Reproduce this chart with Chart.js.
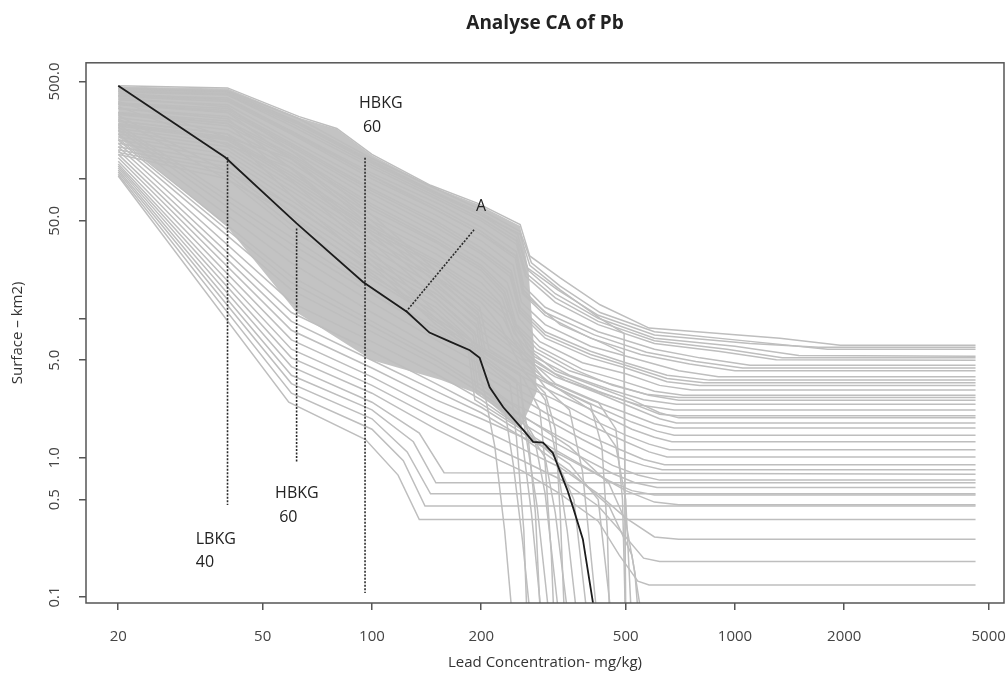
<!DOCTYPE html>
<html>
<head>
<meta charset="utf-8">
<title>Analyse CA of Pb</title>
<script src="https://cdn.jsdelivr.net/npm/chart.js@4.4.1/dist/chart.umd.min.js"></script>
<style>
html, body { margin: 0; padding: 0; background: #fff; }
#wrap { width: 1006px; height: 699px; }
</style>
</head>
<body>
<div id="wrap"><canvas id="caChart" width="1006" height="699"></canvas></div>
<script>
// axis ticks
const xTicks = [20, 50, 100, 200, 500, 1000, 2000, 5000];
const xTickLabels = ['20', '50', '100', '200', '500', '1000', '2000', '5000'];
const yTicks = [0.1, 0.5, 1, 5, 10, 50, 100, 500];
const yTickLabels = ['0.1', '0.5', '1.0', '5.0', '', '50.0', '', '500.0'];

// median concentration-area curve (black)
const medianCurve = [[20, 466], [39.4, 143], [62, 48], [94.5, 18.2], [125, 11.1], [144, 7.9], [164, 6.8],
	[186, 5.9], [198, 5.2], [211, 3.2], [230, 2.3], [261, 1.58], [278, 1.3], [296, 1.28], [315, 1.08],
	[345, 0.59], [358, 0.44], [381, 0.26], [406, 0.092], [412, 0.06]];

// outline of the solid grey core where the simulated curves overlap
const coreTop = [[20, 460], [40, 445], [63, 275], [80, 228], [100, 148], [145, 89], [195, 66], [256, 46], [270, 22], [285, 3]];
const coreBottom = [[20, 200], [40, 45], [62, 11], [100, 5], [155, 3.6], [200, 2.8], [256, 1.6], [285, 3]];

// simulated curves, upper band (end on high plateaus)
const upperCurves = [
	[[20, 466], [40, 450], [63, 280], [80, 230], [100, 150], [145, 90], [195, 67], [256, 47], [272, 28], [330, 19.5], [425, 12.5], [580, 8.5], [1330, 7.2], [1950, 6.4], [4600, 6.4]],
	[[20, 450], [40, 430], [63, 270], [100, 140], [150, 85], [200, 60], [256, 42], [275, 25], [330, 17], [425, 11], [600, 8], [1000, 7], [1800, 6.0], [4600, 6.0]],
	[[20, 445], [40, 425], [62, 255], [100, 132], [150, 80], [200, 57], [252, 40], [268, 23], [325, 16], [420, 10.5], [600, 7.6], [1100, 6.6], [1700, 6.2], [4600, 6.2]],
	[[20, 430], [40, 410], [62, 250], [100, 130], [150, 78], [200, 55], [250, 38], [270, 22], [320, 15], [420, 10], [600, 7.2], [1000, 6.3], [1500, 5.4], [4600, 5.35]],
	[[20, 425], [40, 405], [61, 245], [100, 125], [150, 75], [200, 52], [250, 36], [266, 21], [320, 14], [420, 9.5], [600, 6.9], [950, 6], [1350, 5.2], [4600, 5.2]],
	[[20, 420], [40, 400], [60, 240], [100, 120], [150, 72], [200, 50], [250, 34], [265, 20], [320, 13], [420, 9], [600, 6.6], [900, 5.8], [1300, 5.05], [4600, 5.0]],
	[[20, 400], [40, 380], [60, 220], [100, 110], [155, 65], [200, 45], [250, 30], [262, 17], [300, 12], [420, 8], [600, 6], [800, 5.2], [1100, 4.6], [4600, 4.6]],
	[[20, 395], [40, 370], [60, 215], [100, 105], [152, 62], [200, 42], [249, 28], [261, 16], [300, 11], [410, 7.6], [570, 5.7], [780, 4.9], [1050, 4.4], [4600, 4.4]],
	[[20, 390], [40, 360], [60, 210], [100, 100], [150, 60], [200, 40], [248, 27], [260, 15], [300, 10.5], [400, 7.2], [550, 5.5], [750, 4.7], [1000, 4.2], [4600, 4.2]],
	[[20, 370], [40, 340], [60, 190], [100, 92], [150, 55], [200, 36], [245, 24], [258, 13], [300, 9], [400, 6.3], [550, 5], [700, 4.2], [900, 3.8], [4600, 3.8]],
	[[20, 350], [40, 320], [60, 180], [100, 85], [150, 50], [200, 32], [242, 22], [256, 12], [300, 8], [400, 5.8], [500, 4.8], [650, 3.9], [850, 3.6], [4600, 3.6]],
	[[20, 345], [40, 310], [60, 175], [100, 82], [150, 48], [200, 30], [241, 21], [255, 11.5], [300, 7.6], [400, 5.5], [500, 4.6], [650, 3.7], [820, 3.45], [4600, 3.45]],
	[[20, 340], [40, 300], [60, 170], [100, 78], [150, 45], [200, 29], [240, 20], [255, 11], [300, 7.2], [400, 5.2], [500, 4.4], [650, 3.5], [800, 3.3], [4600, 3.3]],
	[[20, 320], [40, 280], [60, 160], [100, 72], [150, 41], [200, 26], [236, 18], [254, 10], [290, 6.8], [380, 4.8], [500, 4.0], [620, 3.3], [760, 3.06], [4600, 3.06]],
	[[20, 300], [40, 260], [60, 150], [100, 66], [150, 38], [200, 24], [235, 16], [250, 9], [290, 6.2], [380, 4.3], [480, 3.6], [600, 3.0], [720, 2.8], [4600, 2.8]],
	[[20, 295], [40, 250], [60, 145], [100, 63], [150, 36], [200, 23], [232, 15.5], [249, 8.7], [285, 6], [360, 4.3], [460, 3.3], [570, 2.85], [700, 2.7], [4600, 2.7]],
	[[20, 290], [40, 240], [60, 140], [100, 60], [150, 35], [200, 22], [230, 15], [248, 8.4], [280, 5.8], [350, 4.2], [450, 3.4], [580, 2.8], [700, 2.58], [4600, 2.58]],
	[[20, 275], [40, 225], [60, 130], [100, 55], [150, 32], [200, 20], [228, 14], [246, 7.8], [280, 5.3], [350, 3.9], [450, 3.1], [560, 2.6], [690, 2.42], [4600, 2.42]],
	[[20, 260], [40, 210], [60, 120], [100, 50], [150, 29], [200, 18], [225, 13], [244, 7.2], [280, 4.9], [340, 3.6], [430, 2.9], [540, 2.4], [680, 2.2], [4600, 2.2]],
	[[20, 440], [40, 420], [62, 260], [100, 135], [150, 80], [200, 55], [256, 40], [272, 24], [330, 16], [425, 10], [495, 7.8], [500, 0.05]],
	[[20, 410], [40, 370], [62, 210], [100, 105], [150, 60], [200, 40], [250, 28], [262, 15], [330, 9], [440, 6.5], [495, 5.6], [500, 0.05]]
];

// middle band (plateaus between 2 and 0.5)
const middleCurves = [
	[[20, 250], [40, 200], [60, 110], [100, 46], [150, 26], [200, 16], [240, 11], [270, 6], [320, 4.2], [420, 3.2], [520, 2.6], [620, 2.1], [700, 1.93], [4600, 1.93]],
	[[20, 245], [40, 195], [60, 105], [100, 44], [150, 25], [200, 15], [235, 10.5], [265, 5.6], [320, 4], [420, 3.0], [520, 2.45], [620, 2.05], [695, 2.0], [4600, 2.0]],
	[[20, 240], [40, 190], [60, 100], [100, 42], [150, 24], [200, 14], [230, 10], [260, 5.2], [320, 3.8], [420, 2.9], [520, 2.3], [620, 1.9], [690, 1.77], [4600, 1.77]],
	[[20, 230], [40, 180], [60, 95], [100, 40], [150, 22], [200, 13], [225, 9], [256, 4.6], [300, 3.6], [400, 2.6], [500, 2.1], [600, 1.75], [680, 1.63], [4600, 1.63]],
	[[20, 220], [40, 170], [60, 88], [100, 37], [150, 20], [198, 12], [210, 6], [260, 4.2], [320, 3.2], [420, 2.3], [520, 1.8], [610, 1.55], [680, 1.45], [4600, 1.45]],
	[[20, 210], [40, 160], [60, 82], [100, 34], [150, 19], [196, 11], [206, 5.5], [260, 3.8], [320, 2.9], [420, 2.1], [520, 1.6], [600, 1.4], [670, 1.3], [4600, 1.3]],
	[[20, 200], [40, 150], [60, 76], [100, 31], [150, 17], [195, 10], [204, 5], [250, 3.5], [320, 2.6], [400, 1.9], [500, 1.45], [580, 1.25], [660, 1.14], [4600, 1.14]],
	[[20, 190], [40, 140], [60, 70], [100, 28], [150, 15], [194, 9], [202, 4.4], [250, 3.1], [300, 2.4], [400, 1.7], [500, 1.3], [580, 1.1], [650, 1.01], [4600, 1.01]],
	[[20, 180], [40, 130], [60, 64], [100, 26], [150, 14], [192, 8], [200, 4], [250, 2.8], [300, 2.1], [380, 1.5], [480, 1.15], [560, 0.97], [640, 0.89], [4600, 0.89]],
	[[20, 170], [40, 122], [60, 58], [100, 24], [150, 13], [190, 7.5], [198, 3.6], [240, 2.5], [300, 1.9], [380, 1.35], [470, 1.02], [560, 0.88], [630, 0.82], [4600, 0.82]],
	[[20, 162], [40, 115], [60, 52], [100, 22], [150, 12], [188, 7], [196, 3.2], [240, 2.2], [300, 1.6], [380, 1.15], [460, 0.88], [540, 0.75], [620, 0.69], [4600, 0.69]],
	[[20, 155], [40, 108], [60, 47], [100, 20], [150, 11], [186, 6.5], [194, 2.9], [240, 2.0], [300, 1.4], [380, 1.0], [460, 0.77], [530, 0.66], [610, 0.61], [4600, 0.61]],
	[[20, 150], [40, 100], [60, 43], [100, 19], [150, 10], [184, 6], [192, 2.6], [240, 1.8], [300, 1.25], [380, 0.88], [450, 0.68], [520, 0.58], [600, 0.54], [4600, 0.54]]
];

// curves falling below 0.1
const dropCurves = [
	[[20, 225], [60, 30], [100, 13], [150, 7], [195, 4.8], [205, 2.8], [218, 1.2], [232, 0.3], [245, 0.06]],
	[[20, 210], [60, 25], [100, 11], [150, 6], [200, 4], [230, 2.6], [245, 0.9], [260, 0.25], [275, 0.06]],
	[[20, 260], [40, 210], [62, 70], [100, 24], [150, 9], [200, 5.5], [250, 3.6], [258, 1.5], [275, 0.4], [295, 0.06]],
	[[20, 300], [40, 250], [62, 90], [100, 30], [150, 11], [200, 6], [256, 4], [262, 1.8], [285, 0.45], [310, 0.06]],
	[[20, 195], [60, 20], [100, 9.5], [150, 5.3], [200, 3.3], [250, 2.3], [280, 1.4], [300, 0.55], [330, 0.06]],
	[[20, 180], [60, 16], [100, 8], [150, 4.6], [200, 2.9], [260, 1.8], [300, 1.0], [320, 0.4], [350, 0.06]],
	[[20, 320], [40, 270], [62, 110], [100, 35], [150, 14], [200, 7], [256, 4.6], [300, 2.6], [320, 1.1], [345, 0.3], [370, 0.06]],
	[[20, 170], [60, 13], [100, 6.8], [150, 4], [200, 2.6], [260, 1.6], [320, 1.0], [360, 0.5], [395, 0.06]],
	[[20, 350], [40, 300], [62, 130], [100, 45], [150, 18], [200, 9], [256, 5.5], [300, 3.2], [350, 2.2], [380, 0.8], [420, 0.06]],
	[[20, 160], [60, 11], [100, 5.8], [150, 3.4], [200, 2.3], [260, 1.5], [350, 0.9], [420, 0.5], [460, 0.06]],
	[[20, 380], [40, 330], [62, 150], [100, 55], [150, 22], [200, 11], [256, 6], [300, 3.6], [400, 2.2], [470, 1.2], [500, 0.5], [520, 0.06]],
	[[20, 150], [60, 9.5], [100, 5], [150, 3], [200, 2.1], [260, 1.4], [350, 0.8], [450, 0.45], [520, 0.2], [560, 0.06]],
	[[20, 235], [60, 34], [100, 15], [150, 8], [200, 5], [240, 3.4], [250, 1.4], [262, 0.3], [268, 0.06]],
	[[20, 245], [60, 38], [100, 16], [150, 8.5], [200, 5.2], [255, 3.3], [268, 1.6], [282, 0.4], [292, 0.06]],
	[[20, 270], [60, 55], [100, 21], [150, 9.5], [200, 5.8], [260, 3.8], [290, 2.2], [300, 0.9], [312, 0.2], [318, 0.06]],
	[[20, 285], [60, 65], [100, 26], [150, 10], [200, 6.2], [260, 4.2], [300, 2.9], [320, 1.6], [330, 0.4], [340, 0.06]],
	[[20, 330], [60, 120], [100, 40], [150, 16], [200, 8], [260, 5], [320, 3.2], [400, 2.4], [430, 1.2], [445, 0.3], [452, 0.06]],
	[[20, 360], [60, 140], [100, 50], [150, 20], [200, 10], [260, 5.6], [320, 3.4], [420, 2.5], [470, 1.6], [490, 0.5], [500, 0.06]],
	[[20, 190], [60, 18], [100, 8.8], [150, 5], [200, 3.1], [260, 2.0], [350, 1.2], [450, 0.65], [500, 0.35], [530, 0.15], [545, 0.06]]
];

// lower band (low plateaus)
const lowerCurves = [
	[[20, 105], [59, 2.5], [96, 1.35], [118, 0.75], [135, 0.36], [4600, 0.36]],
	[[20, 108], [60, 2.9], [100, 1.6], [122, 0.95], [140, 0.45], [4600, 0.45]],
	[[20, 112], [60, 3.4], [100, 1.9], [125, 1.1], [145, 0.55], [4600, 0.55]],
	[[20, 116], [60, 3.9], [100, 2.2], [130, 1.3], [150, 0.66], [4600, 0.66]],
	[[20, 120], [60, 4.5], [100, 2.5], [135, 1.5], [158, 0.78], [4600, 0.76]],
	[[20, 124], [60, 5.2], [100, 2.9], [150, 1.6], [200, 1.1], [260, 0.8], [330, 0.55], [420, 0.35], [480, 0.2], [540, 0.13], [580, 0.122], [4600, 0.122]],
	[[20, 128], [60, 6], [100, 3.3], [150, 1.9], [200, 1.3], [260, 0.95], [330, 0.7], [420, 0.45], [500, 0.27], [560, 0.19], [620, 0.18], [4600, 0.18]],
	[[20, 134], [60, 7], [100, 3.8], [150, 2.2], [200, 1.6], [260, 1.15], [330, 0.85], [420, 0.55], [500, 0.37], [600, 0.27], [700, 0.26], [4600, 0.26]],
	[[20, 142], [60, 8.2], [100, 4.4], [150, 2.6], [200, 1.9], [260, 1.4], [330, 1.05], [420, 0.75], [500, 0.58], [600, 0.48], [700, 0.46], [4600, 0.46]]
];

// threshold markers (dotted)
const markerLines = [
	[[40, 143], [40, 0.457]],
	[[62, 44], [62, 0.92]],
	[[95.7, 141.6], [95.7, 0.107]],
	[[124, 11.1], [191, 43.1]]
];

// annotation texts and where they sit (data units, left edge / middle)
const noteTexts = ['HBKG', '60', 'A', 'HBKG', '60', 'LBKG', '40'];
const noteAt = [[92.1, 346], [94.4, 233], [193.5, 63.1], [54.1, 0.558], [55.5, 0.375], [32.7, 0.261], [32.7, 0.178]];

const toXY = pts => pts.map(p => ({ x: p[0], y: p[1] }));

const datasets = [];
datasets.push({ data: toXY(medianCurve), borderColor: '#1c1c1c', borderWidth: 1.8, order: 0 });
markerLines.forEach(l => datasets.push({
	data: toXY(l), borderColor: '#2a2a2a', borderWidth: 1.6, borderDash: [2, 1.5], order: 1
}));
[].concat(upperCurves, middleCurves, dropCurves, lowerCurves).forEach(c => datasets.push({
	data: toXY(c), borderColor: '#bebebe', borderWidth: 1.5, order: 2
}));
// core fill: top outline filled down to the next dataset (bottom outline)
datasets.push({ data: toXY(coreTop), borderWidth: 0, borderColor: 'rgba(0,0,0,0)', backgroundColor: '#c3c3c3', fill: '+1', order: 3 });
datasets.push({ data: toXY(coreBottom), borderWidth: 0, borderColor: 'rgba(0,0,0,0)', fill: false, order: 3 });

const textFont = { family: 'Open Sans', size: 15 };

// annotation labels
const notesPlugin = {
	id: 'notes',
	afterDatasetsDraw(chart) {
		const { ctx, scales } = chart;
		ctx.save();
		ctx.font = '16px "Open Sans"';
		ctx.fillStyle = '#222';
		ctx.textAlign = 'left';
		ctx.textBaseline = 'middle';
		noteTexts.forEach((t, i) => {
			ctx.fillText(t, scales.x.getPixelForValue(noteAt[i][0]), scales.y.getPixelForValue(noteAt[i][1]));
		});
		ctx.restore();
	}
};

// box round the plot region
const framePlugin = {
	id: 'frame',
	afterDraw(chart) {
		const { ctx, chartArea: a } = chart;
		ctx.save();
		ctx.strokeStyle = '#555';
		ctx.lineWidth = 1.5;
		ctx.strokeRect(a.left, a.top, a.right - a.left, a.bottom - a.top);
		ctx.restore();
	}
};

const noOverhang = s => { s.paddingLeft = 0; s.paddingRight = 0; s.paddingTop = 0; s.paddingBottom = 0; };

new Chart(document.getElementById('caChart'), {
	type: 'line',
	data: { datasets: datasets },
	options: {
		responsive: false,
		animation: false,
		elements: { point: { radius: 0 }, line: { tension: 0 } },
		layout: { padding: { right: 2 } },
		plugins: {
			legend: { display: false },
			tooltip: { enabled: false },
			filler: { propagate: false },
			title: {
				display: true,
				fullSize: false,
				text: 'Analyse CA of Pb',
				color: '#222',
				font: { family: 'Open Sans', size: 19, weight: 'bold' },
				padding: { top: 12, bottom: 28 }
			}
		},
		scales: {
			x: {
				type: 'logarithmic',
				min: 16.3,
				max: 5510,
				bounds: 'data',
				afterBuildTicks: s => { s.ticks = xTicks.map(v => ({ value: v })); },
				afterFit: s => { s.height = 96; noOverhang(s); },
				border: { display: false },
				grid: { drawOnChartArea: false, drawTicks: true, tickLength: 7, color: '#555', lineWidth: 1.5 },
				ticks: {
					autoSkip: false, maxRotation: 0, padding: 18, color: '#444', font: textFont,
					callback: (v, i) => xTickLabels[i]
				},
				title: {
					display: true, text: 'Lead Concentration- mg/kg)', color: '#333', font: textFont,
					padding: { top: 0, bottom: 27 }
				}
			},
			y: {
				type: 'logarithmic',
				min: 0.0906,
				max: 681,
				bounds: 'data',
				afterBuildTicks: s => { s.ticks = yTicks.map(v => ({ value: v })); },
				afterFit: s => { s.width = 86; noOverhang(s); },
				border: { display: false },
				grid: { drawOnChartArea: false, drawTicks: true, tickLength: 7, color: '#555', lineWidth: 1.5 },
				ticks: {
					autoSkip: false, minRotation: 90, maxRotation: 90, crossAlign: 'center', padding: 5,
					color: '#444', font: textFont,
					callback: (v, i) => yTickLabels[i]
				},
				title: {
					display: true, text: 'Surface – km2)', color: '#333', font: textFont,
					padding: { top: 9, bottom: 0 }
				}
			}
		}
	},
	plugins: [notesPlugin, framePlugin]
});
</script>
</body>
</html>
